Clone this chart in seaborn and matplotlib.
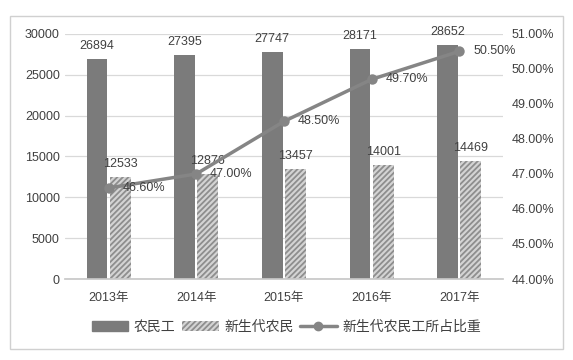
import pandas as pd
import numpy as np
import matplotlib.pyplot as plt
import seaborn as sns
from matplotlib.patches import Patch, Rectangle
from matplotlib.lines import Line2D
from matplotlib.ticker import FuncFormatter

# 数据
years = ['2013年', '2014年', '2015年', '2016年', '2017年']
nongmingong = [26894, 27395, 27747, 28171, 28652]
xinshengdai = [12533, 12876, 13457, 14001, 14469]
bizhong = [46.60, 47.00, 48.50, 49.70, 50.50]

sns.set_theme(style="white")
plt.rcParams['font.family'] = ['Noto Sans CJK SC', 'DejaVu Sans']
plt.rcParams['hatch.linewidth'] = 1.3

dark = '#7b7b7b'
light = '#d4d4d4'
hatch_c = '#8e8e8e'
line_c = '#858585'
text_c = '#404040'
num_font = ['Liberation Sans', 'Noto Sans CJK SC', 'DejaVu Sans']

df = pd.DataFrame({
    '年份': years * 2,
    '人数': nongmingong + xinshengdai,
    '类别': ['农民工'] * 5 + ['新生代农民'] * 5,
})

fig = plt.figure(figsize=(5.73, 3.6), dpi=100)
ax = fig.add_axes([0.113, 0.225, 0.765, 0.681])

sns.barplot(data=df, x='年份', y='人数', hue='类别', ax=ax,
            palette=[dark, light], width=0.53, gap=0.1, legend=False)

# 第二个系列加斜线
n = len(years)
for i, bar in enumerate(ax.patches[:2 * n]):
    if i >= n:
        bar.set_hatch('//////')
        bar.set_edgecolor(hatch_c)
    else:
        bar.set_edgecolor(dark)
    bar.set_linewidth(0)

# 柱子上的数值
for bar in ax.patches[:2 * n]:
    val = int(bar.get_height())
    ax.annotate(str(val), (bar.get_x() + bar.get_width() / 2, bar.get_height()),
                xytext=(0, 5), textcoords='offset points', ha='center',
                va='bottom', fontsize=9, color=text_c, family=num_font)

ax.set_ylim(0, 30000)
ax.set_yticks(range(0, 30001, 5000))
ax.set_xlim(-0.5, n - 0.5)
ax.set_xlabel('')
ax.set_ylabel('')
ax.yaxis.grid(True, color='#d9d9d9', linewidth=0.9)
ax.set_axisbelow(True)
for s in ['top', 'right', 'left']:
    ax.spines[s].set_visible(False)
ax.spines['bottom'].set_color('#c8c8c8')
ax.tick_params(axis='both', length=0, labelsize=9, colors=text_c)
ax.tick_params(axis='x', pad=9)

# 右轴：比重折线
ax2 = ax.twinx()
sns.lineplot(x=np.arange(n), y=bizhong, ax=ax2, color=line_c, linewidth=2.5,
             marker='o', markersize=7.5, markeredgewidth=0)
for i, v in enumerate(bizhong):
    ax2.annotate(f'{v:.2f}%', (i, v), xytext=(10, 0), textcoords='offset points',
                 ha='left', va='center', fontsize=9, color=text_c, family=num_font)
ax2.set_ylim(44, 51)
ax2.set_yticks(np.arange(44, 51.01, 1))
ax2.yaxis.set_major_formatter(FuncFormatter(lambda v, p: f'{v:.2f}%'))
ax2.tick_params(axis='y', length=0, labelsize=9, colors=text_c, pad=6)
for s in ax2.spines.values():
    s.set_visible(False)
ax2.set_xlim(-0.5, n - 0.5)

for t in ax.get_xticklabels() + ax.get_yticklabels() + ax2.get_yticklabels():
    t.set_family(num_font)

# 图例
handles = [
    Patch(facecolor=dark, edgecolor=dark),
    Patch(facecolor=light, edgecolor=hatch_c, hatch='//////', linewidth=0),
    Line2D([0], [0], color=line_c, linewidth=2.5, marker='o', markersize=6),
]
fig.legend(handles, ['农民工', '新生代农民', '新生代农民工所占比重'],
           loc='center', bbox_to_anchor=(0.5, 0.092), ncol=3, frameon=False,
           fontsize=10, handlelength=2.6, handletextpad=0.4, columnspacing=0.5,
           labelcolor=text_c)

# 外框
fig.patches.append(Rectangle((0.017, 0.03), 0.966, 0.925, transform=fig.transFigure,
                             fill=False, edgecolor='#d0d0d0', linewidth=1))

fig.savefig('out.png', dpi=100)
